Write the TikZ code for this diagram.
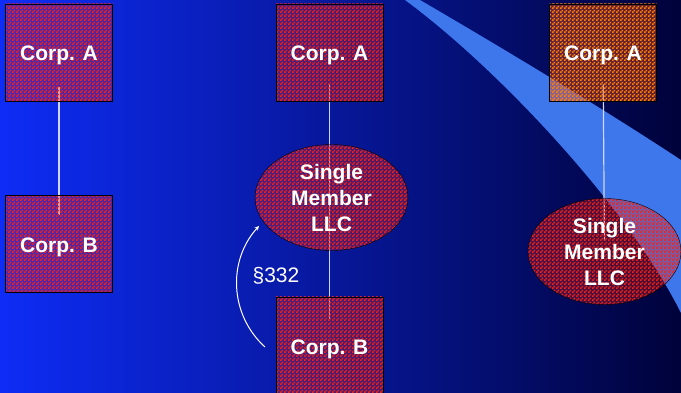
\documentclass[tikz,border=0pt]{standalone}
\usepackage{fontspec}
\setmainfont{Liberation Sans}
\usetikzlibrary{arrows, shapes.geometric, patterns}

\definecolor{slideleft}{RGB}{14,44,246}
\definecolor{slidemid}{RGB}{0,28,178}
\definecolor{slideright}{RGB}{0,2,58}
\definecolor{swooshblue}{RGB}{62,118,236}
\definecolor{checkred}{RGB}{245,34,20}
\definecolor{checkorange}{RGB}{255,132,0}
\definecolor{linkgray}{RGB}{205,215,245}

\pgfdeclarelayer{back}
\pgfdeclarelayer{links}
\pgfsetlayers{back,links,main}

\pgfdeclarepatternformonly{finecheck}{\pgfpointorigin}{\pgfqpoint{4pt}{4pt}}{\pgfqpoint{4pt}{4pt}}{%
  \pgfpathrectangle{\pgfpointorigin}{\pgfqpoint{2pt}{2pt}}%
  \pgfpathrectangle{\pgfqpoint{2pt}{2pt}}{\pgfqpoint{2pt}{2pt}}%
  \pgfusepath{fill}}

\tikzset{
  corp/.style={draw=black, pattern=finecheck, pattern color=checkred,
    preaction={fill=checkred, fill opacity=0.3},
    minimum width=107pt, minimum height=97pt, inner sep=0pt,
    text height=17pt, text depth=0pt,
    text=white, font=\bfseries\fontsize{21}{26}\selectfont},
  corpA/.style={corp, pattern color=checkorange,
    preaction={fill=checkorange, fill opacity=0.15}},
  llc/.style={corp, ellipse, minimum width=153pt, minimum height=106pt,
    align=center, text height=, text depth=},
  link/.style={draw=linkgray, line width=1.2pt},
}

\begin{document}
\begin{tikzpicture}[x=1pt, y=-1pt, >=stealth]
    \useasboundingbox (0,0) rectangle (681,393);
    \clip (0,0) rectangle (681,393);
    \begin{pgfonlayer}{back}
        \shade[left color=slideleft, middle color=slidemid, right color=slideright] (0,0) rectangle (681,393);
        \fill[swooshblue] (405,0) .. controls (500,70) and (630,210) .. (681,313)
            -- (681,160) .. controls (590,100) and (480,35) .. (420,0) -- cycle;
    \end{pgfonlayer}

    % first column
    \node[corp] (a1) at (59,52.5) {Corp. A};
    \node[corp] (b1) at (59,244) {Corp. B};

    % second column
    \node[corp] (a2) at (329.5,52.5) {Corp. A};
    \node[llc] (m2) at (331.5,197.5) {Single\\Member\\LLC};
    \node[corp] (b2) at (329.5,345.5) {Corp. B};

    % third column
    \node[corpA] (a3) at (603,52.5) {Corp. A};
    \node[llc] (m3) at (604.5,251.5) {Single\\Member\\LLC};

    \begin{pgfonlayer}{links}
        \draw[link, shorten <=35pt, shorten >=29pt] (a1.center) -- (b1.center);
        \draw[link, shorten <=32pt, shorten >=27pt] (a2.center) -- (b2.center);
        \draw[link, shorten <=32pt, shorten >=11pt] (a3.center) -- (m3.center);
    \end{pgfonlayer}

    \coordinate (from332) at (265,347);
    \coordinate (to332) at (259,226);
    \draw[->, white, line width=1pt] (from332) to[bend left=45] (to332);
    \node[text=white, font=\fontsize{21}{25}\selectfont] (sec332) at (276,276) {§332};
\end{tikzpicture}
\end{document}
